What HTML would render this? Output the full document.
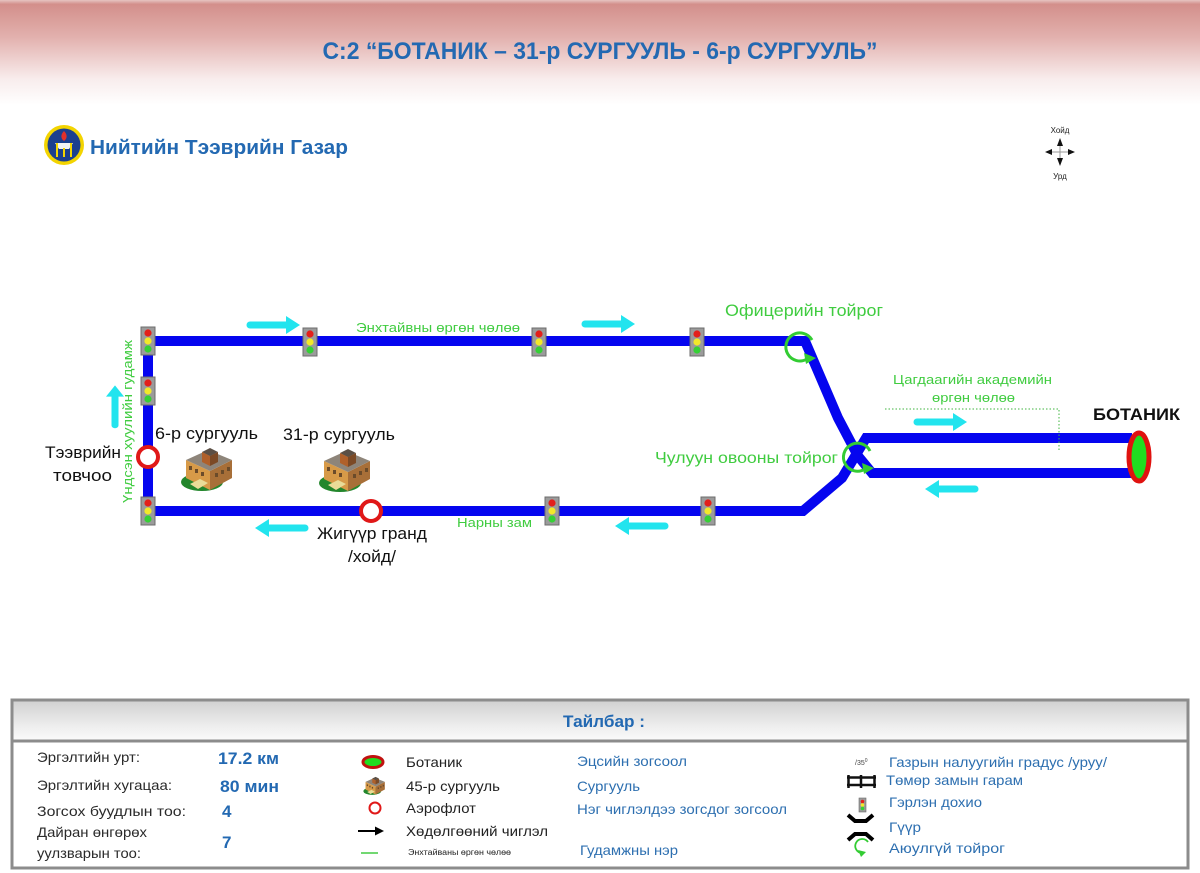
<!DOCTYPE html>
<html><head><meta charset="utf-8"><style>
html,body{margin:0;padding:0;background:#fff;}
svg{display:block;}
text{font-family:"Liberation Sans",Arial,sans-serif;}
</style></head><body>
<svg width="1200" height="873" viewBox="0 0 1200 873" xmlns="http://www.w3.org/2000/svg">
<defs>
<linearGradient id="hdr" x1="0" y1="0" x2="0" y2="1">
<stop offset="0" stop-color="#e6c4c2"/>
<stop offset="0.04" stop-color="#d38f8b"/>
<stop offset="0.35" stop-color="#e2b0ad"/>
<stop offset="0.75" stop-color="#f8ecec"/>
<stop offset="1" stop-color="#ffffff"/>
</linearGradient>
<linearGradient id="lg" x1="0" y1="0" x2="0" y2="1">
<stop offset="0" stop-color="#d2d2d2"/>
<stop offset="0.6" stop-color="#ececec"/>
<stop offset="1" stop-color="#fbfbfb"/>
</linearGradient>
<g id="tl">
<rect x="-7" y="-14" width="14" height="28" fill="#9b9b9b" stroke="#6c6c6c" stroke-width="1"/>
<circle cx="0" cy="-8" r="3.6" fill="#e3201b"/>
<circle cx="0" cy="0" r="3.6" fill="#f2e82a"/>
<circle cx="0" cy="8" r="3.6" fill="#35d035"/>
</g>
<g id="ar">
<path d="M0,-3.5 H-38 A3.5,3.5 0 0 0 -38,3.5 H0 Z" fill="#22e4ee"/>
<path d="M-2,-9 L12,0 L-2,9 Z" fill="#22e4ee"/>
</g>
<g id="school">
<ellipse cx="22" cy="36" rx="21" ry="9" fill="#23862c"/>
<polygon points="6,14 30,25 30,44 6,32" fill="#d79a48"/>
<polygon points="30,25 52,14 52,32 30,44" fill="#a86f38"/>
<polygon points="6,14 28,4 52,14 30,25" fill="#8e857a"/>
<polygon points="22,6 30,2 38,6 30,10" fill="#5b4f45"/>
<polygon points="22,6 30,10 30,20 22,16" fill="#b0602a"/>
<polygon points="30,10 38,6 38,16 30,20" fill="#7c4a26"/>
<g fill="#6b4b2a">
<rect x="9" y="20" width="3" height="4"/><rect x="15" y="23" width="3" height="4"/><rect x="21" y="26" width="3" height="4"/>
<rect x="35" y="27" width="3" height="4"/><rect x="41" y="24" width="3" height="4"/><rect x="47" y="21" width="3" height="4"/>
</g>
<polygon points="10,38 20,33 28,37 18,43" fill="#e9dc98"/>
</g>
</defs>

<!-- header -->
<rect x="0" y="0" width="1200" height="105" fill="url(#hdr)"/>
<text x="600" y="59" text-anchor="middle" font-size="24" font-weight="bold" fill="#2369b2" textLength="555" lengthAdjust="spacingAndGlyphs">С:2 “БОТАНИК – 31-р СУРГУУЛЬ - 6-р СУРГУУЛЬ”</text>

<!-- logo -->
<circle cx="64" cy="145" r="20" fill="#f3d400"/>
<circle cx="64" cy="145" r="16.5" fill="#1c3f8e"/>
<path d="M64,131 C60,135 61,139 64,141 C67,139 68,135 64,131 Z" fill="#e2302a"/>
<path d="M55,143 H73 L69,149 H59 Z" fill="#f4f4f4"/>
<rect x="56" y="143" width="2" height="14" fill="#f3d400"/>
<rect x="70" y="143" width="2" height="14" fill="#f3d400"/>
<rect x="63" y="148" width="2" height="9" fill="#f3d400"/>
<text x="90" y="154" font-size="20" font-weight="bold" fill="#2369b2" textLength="258" lengthAdjust="spacingAndGlyphs">Нийтийн Тээврийн Газар</text>

<!-- compass -->
<text x="1060" y="133" text-anchor="middle" font-size="8" fill="#222">Хойд</text>
<text x="1060" y="179" text-anchor="middle" font-size="8" fill="#222">Урд</text>
<line x1="1046" y1="152" x2="1074" y2="152" stroke="#999" stroke-width="1"/>
<line x1="1060" y1="139" x2="1060" y2="165" stroke="#999" stroke-width="1"/>
<path d="M1060,138 L1057,146 L1063,146 Z M1060,166 L1057,158 L1063,158 Z M1045,152 L1052,149 L1052,155 Z M1075,152 L1068,149 L1068,155 Z" fill="#111"/>

<!-- roads -->
<path d="M148,341 H805 L838,418 L858,456 L872,473 H1132" fill="none" stroke="#0505ef" stroke-width="10" stroke-linejoin="miter"/>
<path d="M148,341 V511 H803 L842,478 L866,438 H1132" fill="none" stroke="#0505ef" stroke-width="10" stroke-linejoin="miter"/>

<!-- Botanik terminus -->
<ellipse cx="1139" cy="457" rx="10" ry="24" fill="#20dd20" stroke="#e0120f" stroke-width="5"/>

<!-- roundabouts -->
<path d="M812,340 A14,14 0 1 0 807,359" fill="none" stroke="#33cc33" stroke-width="3"/>
<path d="M804,353 L816,358 L806,364 Z" fill="#33cc33"/>
<path d="M870,451 A14,14 0 1 0 865,469" fill="none" stroke="#33cc33" stroke-width="3"/>
<path d="M862,463 L874,468 L864,474 Z" fill="#33cc33"/>

<!-- traffic lights -->
<use href="#tl" x="148" y="341"/>
<use href="#tl" x="148" y="391"/>
<use href="#tl" x="148" y="511"/>
<use href="#tl" x="310" y="342"/>
<use href="#tl" x="539" y="342"/>
<use href="#tl" x="697" y="342"/>
<use href="#tl" x="552" y="511"/>
<use href="#tl" x="708" y="511"/>

<!-- stops -->
<circle cx="148" cy="457" r="10" fill="#fff" stroke="#e01818" stroke-width="4"/>
<circle cx="371" cy="511" r="10" fill="#fff" stroke="#e01818" stroke-width="4"/>

<!-- direction arrows -->
<use href="#ar" transform="translate(288,325)"/>
<use href="#ar" transform="translate(623,324)"/>
<use href="#ar" transform="translate(955,422)"/>
<use href="#ar" transform="translate(937,489) rotate(180)"/>
<use href="#ar" transform="translate(267,528) rotate(180)"/>
<use href="#ar" transform="translate(627,526) rotate(180)"/>
<use href="#ar" transform="translate(115,395) rotate(-90) scale(0.8,1)"/>

<!-- schools -->
<use href="#school" transform="translate(180,446)"/>
<use href="#school" transform="translate(318,447)"/>

<!-- dotted leader -->
<path d="M885,409 H1059 V450" fill="none" stroke="#3fb53f" stroke-width="1" stroke-dasharray="1.5,2"/>

<!-- map labels -->
<g fill="#40cc40">
<text x="356" y="332" font-size="13" textLength="164" lengthAdjust="spacingAndGlyphs">Энхтайвны өргөн чөлөө</text>
<text x="725" y="316" font-size="17" textLength="158" lengthAdjust="spacingAndGlyphs">Офицерийн тойрог</text>
<text x="893" y="384" font-size="13" textLength="159" lengthAdjust="spacingAndGlyphs">Цагдаагийн академийн</text>
<text x="932" y="402" font-size="13" textLength="83" lengthAdjust="spacingAndGlyphs">өргөн чөлөө</text>
<text x="655" y="463" font-size="16" textLength="183" lengthAdjust="spacingAndGlyphs">Чулуун овооны тойрог</text>
<text x="457" y="527" font-size="13" textLength="75" lengthAdjust="spacingAndGlyphs">Нарны зам</text>
<text transform="translate(132,503) rotate(-90)" font-size="13" textLength="163" lengthAdjust="spacingAndGlyphs">Үндсэн хуулийн гудамж</text>
</g>
<g fill="#111">
<text x="1093" y="420" font-size="17" font-weight="bold" textLength="87" lengthAdjust="spacingAndGlyphs">БОТАНИК</text>
<text x="155" y="439" font-size="17" textLength="103" lengthAdjust="spacingAndGlyphs">6-р сургууль</text>
<text x="283" y="440" font-size="17" textLength="112" lengthAdjust="spacingAndGlyphs">31-р сургууль</text>
<text x="45" y="458" font-size="17" textLength="76" lengthAdjust="spacingAndGlyphs">Тээврийн</text>
<text x="53" y="481" font-size="17" textLength="59" lengthAdjust="spacingAndGlyphs">товчоо</text>
<text x="317" y="539" font-size="17" textLength="110" lengthAdjust="spacingAndGlyphs">Жигүүр гранд</text>
<text x="348" y="562" font-size="17" textLength="48" lengthAdjust="spacingAndGlyphs">/хойд/</text>
</g>

<!-- legend box -->
<rect x="12" y="700" width="1176" height="168" fill="#fff" stroke="#8c8c8c" stroke-width="3"/>
<rect x="13.5" y="701.5" width="1173" height="39" fill="url(#lg)"/>
<line x1="12" y1="741" x2="1188" y2="741" stroke="#8c8c8c" stroke-width="3"/>
<text x="563" y="727" font-size="17" font-weight="bold" fill="#2369b2" textLength="82" lengthAdjust="spacingAndGlyphs">Тайлбар :</text>

<g fill="#2a2a2a" font-size="14">
<text x="37" y="762" textLength="103" lengthAdjust="spacingAndGlyphs">Эргэлтийн урт:</text>
<text x="37" y="790" textLength="135" lengthAdjust="spacingAndGlyphs">Эргэлтийн хугацаа:</text>
<text x="37" y="816" textLength="149" lengthAdjust="spacingAndGlyphs">Зогсох буудлын тоо:</text>
<text x="37" y="837" textLength="110" lengthAdjust="spacingAndGlyphs">Дайран өнгөрөх</text>
<text x="37" y="858" textLength="104" lengthAdjust="spacingAndGlyphs">уулзварын тоо:</text>
</g>
<g fill="#2369b2" font-size="17" font-weight="bold">
<text x="218" y="764" textLength="61" lengthAdjust="spacingAndGlyphs">17.2 км</text>
<text x="220" y="792" textLength="59" lengthAdjust="spacingAndGlyphs">80 мин</text>
<text x="222" y="817">4</text>
<text x="222" y="848">7</text>
</g>

<!-- legend col 2 icons -->
<ellipse cx="373" cy="762" rx="10" ry="5.5" fill="#20dd20" stroke="#c0120f" stroke-width="3"/>
<use href="#school" transform="translate(363,776) scale(0.42)"/>
<circle cx="375" cy="808" r="5.5" fill="#fff" stroke="#e01818" stroke-width="2"/>
<line x1="358" y1="831" x2="376" y2="831" stroke="#000" stroke-width="2"/>
<path d="M375,826.5 L384,831 L375,835.5 Z" fill="#000"/>
<line x1="361" y1="853" x2="378" y2="853" stroke="#44cc44" stroke-width="1.5"/>
<g fill="#222" font-size="14">
<text x="406" y="767" textLength="56" lengthAdjust="spacingAndGlyphs">Ботаник</text>
<text x="406" y="791" textLength="94" lengthAdjust="spacingAndGlyphs">45-р сургууль</text>
<text x="406" y="813" textLength="70" lengthAdjust="spacingAndGlyphs">Аэрофлот</text>
<text x="406" y="836" textLength="142" lengthAdjust="spacingAndGlyphs">Хөдөлгөөний чиглэл</text>
<text x="408" y="855" font-size="8" textLength="103" lengthAdjust="spacingAndGlyphs">Энхтайваны өргөн чөлөө</text>
</g>
<g fill="#2d6fb0" font-size="14">
<text x="577" y="766" textLength="110" lengthAdjust="spacingAndGlyphs">Эцсийн зогсоол</text>
<text x="577" y="791" textLength="63" lengthAdjust="spacingAndGlyphs">Сургууль</text>
<text x="577" y="814" textLength="210" lengthAdjust="spacingAndGlyphs">Нэг чиглэлдээ зогсдог зогсоол</text>
<text x="580" y="855" textLength="98" lengthAdjust="spacingAndGlyphs">Гудамжны нэр</text>
<text x="889" y="767" textLength="218" lengthAdjust="spacingAndGlyphs">Газрын налуугийн градус /уруу/</text>
<text x="886" y="785" textLength="137" lengthAdjust="spacingAndGlyphs">Төмөр замын гарам</text>
<text x="889" y="807" textLength="93" lengthAdjust="spacingAndGlyphs">Гэрлэн дохио</text>
<text x="889" y="832" textLength="32" lengthAdjust="spacingAndGlyphs">Гүүр</text>
<text x="889" y="853" textLength="116" lengthAdjust="spacingAndGlyphs">Аюулгүй тойрог</text>
</g>

<!-- legend col 4 icons -->
<text x="855" y="765" font-size="7" fill="#444">/35<tspan font-size="5" dy="-3">0</tspan></text>
<g stroke="#111" stroke-width="2.5">
<line x1="847" y1="777.5" x2="876" y2="777.5"/>
<line x1="847" y1="785" x2="876" y2="785"/>
<line x1="848.5" y1="775" x2="848.5" y2="788"/>
<line x1="861" y1="775" x2="861" y2="788"/>
<line x1="874.5" y1="775" x2="874.5" y2="788"/>
</g>
<rect x="859" y="798" width="7" height="14" fill="#9b9b9b" stroke="#6c6c6c" stroke-width="0.6"/>
<circle cx="862.5" cy="801.5" r="1.8" fill="#e3201b"/>
<circle cx="862.5" cy="805" r="1.8" fill="#f2e82a"/>
<circle cx="862.5" cy="808.5" r="1.8" fill="#35d035"/>
<path d="M848,815 L855,821 H866 L873,815" fill="none" stroke="#000" stroke-width="4"/>
<path d="M848,840 L855,834 H866 L873,840" fill="none" stroke="#000" stroke-width="4"/>
<path d="M868,842 A7,7 0 1 0 862,853" fill="none" stroke="#33cc33" stroke-width="1.8"/>
<path d="M858,850 L866,852 L861,857 Z" fill="#33cc33"/>
</svg>
</body></html>
